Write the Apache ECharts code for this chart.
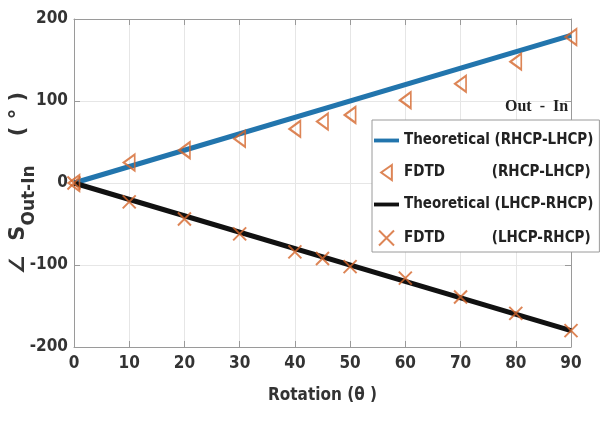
<!DOCTYPE html>
<html><head><meta charset="utf-8">
<script src="https://cdn.jsdelivr.net/npm/echarts@6/dist/echarts.min.js"></script>
<style>html,body{margin:0;padding:0;background:#fff}#c{width:610px;height:421px}</style>
</head><body><div id="c"></div>
<script>
const xTicks = [0,10,20,30,40,50,60,70,80,90];
const yTicks = [-200,-100,0,100,200];
const theoryX = [0, 90];
const theoryRL = [0, 180];
const theoryLR = [0, -180];
const fdtdX = [0,10,20,30,40,45,50,60,70,80,90];
const fdtdRL = [0,25,40,54,66,75,83,101,121,148,178];
const fdtdLR = [0,-23,-44,-62,-84,-92,-102,-116,-139,-159,-180];
const names = ['Theoretical (RHCP-LHCP)','FDTD          (RHCP-LHCP)','Theoretical (LHCP-RHCP)','FDTD          (LHCP-RHCP)'];

const F = 'DejaVu Sans Condensed, DejaVu Sans, sans-serif';
const F2 = 'DejaVu Sans, sans-serif';
const orange = '#d5662c';
const crossPath = 'path://M0,0L10,10M10,0L0,10';
const triPath = 'path://M10,0L0,7L10,14Z';
const chart = echarts.init(document.getElementById('c'), null, {renderer:'canvas'});
const grid = {left:74, right:39, top:19, bottom:74, outerBoundsMode:'none', containLabel:false};
const axisLineStyle = {color:'#9a9a9a', width:1};
chart.setOption({
  animation:false,
  backgroundColor:'#fff',
  grid: grid,
  title: {text:'Out  -  In', left:500, top:94, textStyle:{fontFamily:'Liberation Serif, serif', fontWeight:'bold', fontSize:16, color:'#222'}},
  legend: {
    orient:'vertical', left:372, top:120, width:225,
    backgroundColor:'#fff', borderColor:'#9a9a9a', borderWidth:1,
    padding:[13,6,4,2], itemGap:16, itemWidth:25, itemHeight:15,
    textStyle:{fontFamily:F, fontWeight:'bold', fontSize:15, color:'#222'},
    data:[
      {name:names[0], icon:'path://M0,0L26,0L26,4L0,4Z'},
      {name:names[1]},
      {name:names[2], icon:'path://M0,0L26,0L26,4L0,4Z'},
      {name:names[3]}
    ]
  },
  xAxis: [{
    type:'value', min:0, max:90, interval:10,
    axisLine:{onZero:false, lineStyle:axisLineStyle}, axisTick:{inside:true, length:6, lineStyle:axisLineStyle},
    axisLabel:{fontFamily:F, fontWeight:'bold', fontSize:17, color:'#333', margin:8,
      formatter: v => xTicks.includes(v) ? String(v) : ''},
    splitLine:{show:true, lineStyle:{color:'#e6e6e6'}},
    name:'Rotation (\u03b8 )', nameLocation:'middle', nameGap:40, nameMoveOverlap:false,
    nameTextStyle:{fontFamily:F, fontWeight:'bold', fontSize:17, color:'#333'}
  },{
    type:'value', min:0, max:90, interval:10, position:'top',
    axisLine:{onZero:false, lineStyle:axisLineStyle}, axisTick:{inside:true, length:6, lineStyle:axisLineStyle},
    axisLabel:{show:false}, splitLine:{show:false}
  }],
  yAxis: [{
    type:'value', min:-200, max:200, interval:100,
    axisLine:{onZero:false, lineStyle:axisLineStyle}, axisTick:{inside:true, length:6, lineStyle:axisLineStyle},
    axisLabel:{fontFamily:F, fontWeight:'bold', fontSize:17, color:'#333', margin:6,
      formatter: v => yTicks.includes(v) ? String(v) : ''},
    splitLine:{show:true, lineStyle:{color:'#e6e6e6'}},
    name:'{a|\u2220  S}{b|Out-In}{a|    (\u00a0\u00b0\u00a0)}', nameLocation:'middle', nameGap:36, nameMoveOverlap:false,
    nameTextStyle:{rich:{
      a:{fontFamily:F2, fontWeight:'bold', fontSize:21, color:'#333'},
      b:{fontFamily:F2, fontWeight:'bold', fontSize:17, color:'#333', verticalAlign:'bottom', padding:[22,0,0,0]}
    }}
  },{
    type:'value', min:-200, max:200, interval:100, position:'right',
    axisLine:{onZero:false, lineStyle:axisLineStyle}, axisTick:{inside:true, length:6, lineStyle:axisLineStyle},
    axisLabel:{show:false}, splitLine:{show:false}
  }],
  series: [
    {name:names[0], type:'line', data: theoryX.map((x,i)=>[x,theoryRL[i]]), symbol:'none',
      lineStyle:{color:'#2275ad', width:5}, itemStyle:{color:'#2275ad'}, z:2},
    {name:names[2], type:'line', data: theoryX.map((x,i)=>[x,theoryLR[i]]), symbol:'none',
      lineStyle:{color:'#111', width:5}, itemStyle:{color:'#111'}, z:2},
    {name:names[1], type:'scatter', data: fdtdX.map((x,i)=>[x,fdtdRL[i]]),
      symbol:triPath, symbolSize:[11,16],
      itemStyle:{color:'rgba(255,255,255,0)', borderColor:orange, borderWidth:2}, z:3},
    {name:names[3], type:'scatter', data: fdtdX.map((x,i)=>[x,fdtdLR[i]]),
      symbol:crossPath, symbolSize:13,
      itemStyle:{color:'none', borderColor:orange, borderWidth:2}, z:3}
  ]
});
</script></body></html>
